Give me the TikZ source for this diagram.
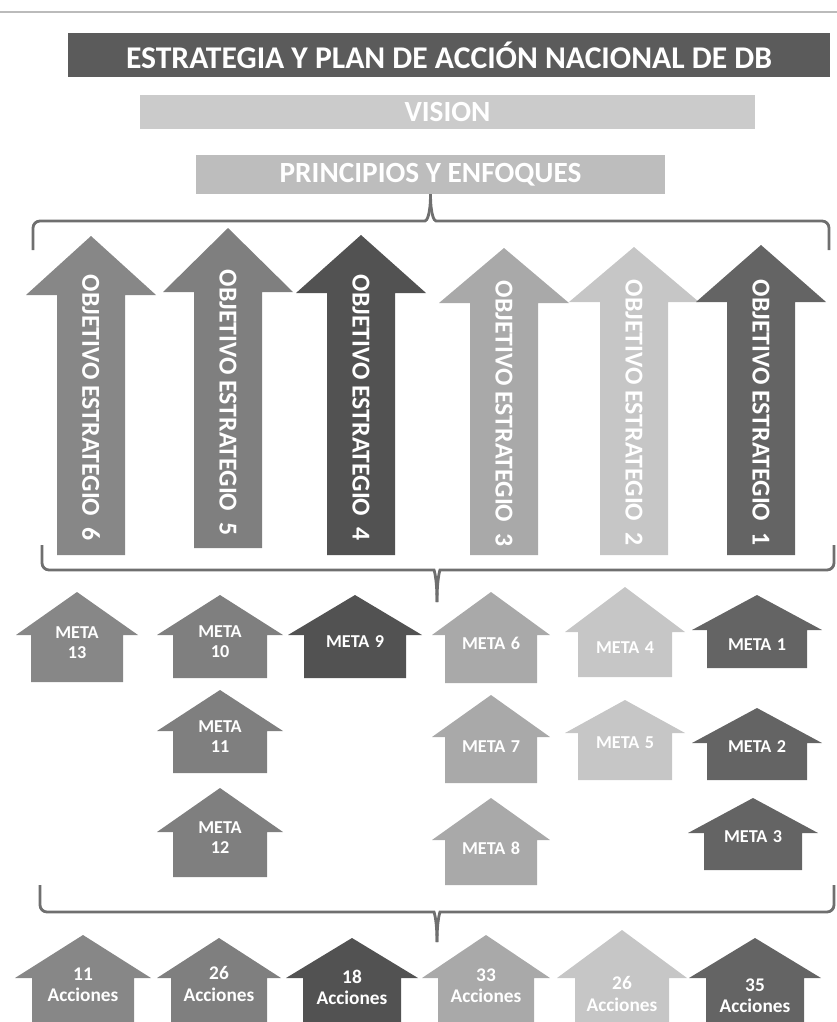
\documentclass[tikz,border=0pt]{standalone}
\usepackage{fontspec}
\setmainfont{Carlito}
\definecolor{titlegray}{HTML}{5B5B5B}
\definecolor{visiongray}{HTML}{CBCBCB}
\definecolor{princgray}{HTML}{BDBDBD}
\definecolor{bracegray}{HTML}{6F6F6F}
\definecolor{rulegray}{HTML}{BBBBBB}
\definecolor{colsix}{HTML}{878787}
\definecolor{colfive}{HTML}{7F7F7F}
\definecolor{colfour}{HTML}{525252}
\definecolor{colthree}{HTML}{A9A9A9}
\definecolor{coltwo}{HTML}{C6C6C6}
\definecolor{colone}{HTML}{646464}
\tikzset{bar/.style={inner sep=0pt, text=white, font=\bfseries\fontsize{25}{27}\selectfont}}
\tikzset{bracket/.style={draw=bracegray, line width=2.4pt, rounded corners=6pt}}
\tikzset{pagerule/.style={draw=rulegray, line width=1pt}}
\tikzset{objtext/.style={text=white, inner sep=0pt, rotate=-90, font=\bfseries\fontsize{22}{24}\selectfont}}
\tikzset{metatext/.style={text=white, inner sep=0pt, align=center, font=\bfseries\fontsize{15.5}{17}\selectfont}}
\tikzset{acctext/.style={text=white, inner sep=0pt, align=center, font=\bfseries\fontsize{16.5}{18}\selectfont}}

\begin{document}
\begin{tikzpicture}[x=0.03cm, y=-0.03cm]
    \useasboundingbox (0, 0) rectangle (837, 1022);
    \draw[pagerule] (0, 12) -- (837, 12);
    \node[bar, fill=titlegray, minimum width=22.86cm, minimum height=1.32cm, font=\bfseries\fontsize{27}{29}\selectfont] (title) at (449, 55) {ESTRATEGIA Y PLAN DE ACCIÓN NACIONAL DE DB};
    \node[bar, fill=visiongray, minimum width=18.45cm, minimum height=1.02cm] (vision) at (447.5, 112) {VISION};
    \node[bar, fill=princgray, minimum width=14.07cm, minimum height=1.17cm] (princ) at (430.5, 174.5) {PRINCIPIOS Y ENFOQUES};
    \draw[bracket] (33, 250) -- (33, 221) -- (418, 221) .. controls (427, 221) and (430.5, 214) .. (princ.south);
    \draw[bracket] (princ.south) .. controls (430.5, 214) and (434, 221) .. (443, 221) -- (829, 221) -- (829, 250);
    \foreach \num/\cx/\tip/\base/\bot/\col/\ty in {6/91/236/295/555/colsix/408, 5/228/228/292/548/colfive/403, 4/361/235/293/555/colfour/408, 3/504/248/303/555/colthree/414, 2/634/247/302/555/coltwo/413, 1/761/245/302/555/colone/413} {
        \fill[\col] ({\cx-34}, \bot) -- ({\cx-34}, \base) -- ({\cx-65}, \base) -- (\cx, \tip) -- ({\cx+65}, \base) -- ({\cx+34}, \base) -- ({\cx+34}, \bot) -- cycle;
        \node[objtext] (obj\num) at (\cx, \ty) {OBJETIVO ESTRATEGIO\hspace{0.45em}\num};
    }
    \coordinate (goaltip) at (437, 602);
    \draw[bracket] (42, 545) -- (42, 570) -- (427, 570) .. controls (434, 570) and (437, 578) .. (goaltip);
    \draw[bracket] (goaltip) .. controls (437, 578) and (440, 570) .. (447, 570) -- (834, 570) -- (834, 545);
    \foreach \name/\cx/\tip/\base/\bot/\hh/\sh/\col/\ty/\txt in {meta13/77/592/635/682/61/46/colsix/643/{META\\13}, meta10/220/595/635/678/63/47/colfive/642/{META\\10}, meta9/355/595/635/678/67/51/colfour/642/{META\hspace{0.3em}9}, meta6/491/592/635/683/59/46/colthree/643/{META\hspace{0.3em}6}, meta4/625/587/632/677/60/47/coltwo/648/{META\hspace{0.3em}4}, meta1/757/595/630/668/65/50/colone/645/{META\hspace{0.3em}1}, meta11/220/690/731/773/63/47/colfive/737/{META\\11}, meta7/491/695/737/783/59/46/colthree/747/{META\hspace{0.3em}7}, meta5/625/700/733/780/60/47/coltwo/743/{META\hspace{0.3em}5}, meta2/757/708/743/780/65/50/colone/747/{META\hspace{0.3em}2}, meta12/220/788/832/877/63/47/colfive/838/{META\\12}, meta8/491/798/840/885/59/46/colthree/848/{META\hspace{0.3em}8}, meta3/753/798/833/870/65/49/colone/837/{META\hspace{0.3em}3}} {
        \fill[\col] ({\cx-\sh}, \bot) -- ({\cx-\sh}, \base) -- ({\cx-\hh}, \base) -- (\cx, \tip) -- ({\cx+\hh}, \base) -- ({\cx+\sh}, \base) -- ({\cx+\sh}, \bot) -- cycle;
        \node[metatext] (\name) at (\cx, \ty) {\txt};
    }
    \coordinate (actiontip) at (437, 942);
    \draw[bracket] (40, 885) -- (40, 912) -- (427, 912) .. controls (434, 912) and (437, 920) .. (actiontip);
    \draw[bracket] (actiontip) .. controls (437, 920) and (440, 912) .. (447, 912) -- (834, 912) -- (834, 885);
    \foreach \name/\cx/\tip/\hh/\sh/\col/\ty/\count in {acc1/83/935/68/51/colsix/985/11, acc2/219/938/62/48/colfive/984/26, acc3/352/938/66/49/colfour/987/18, acc4/486/935/64/48/colthree/986/33, acc5/622/930/65/47/coltwo/994/26, acc6/755/938/66/49/colone/996/35} {
        \fill[\col] ({\cx-\sh}, 1022) -- ({\cx-\sh}, 978) -- ({\cx-\hh}, 978) -- (\cx, \tip) -- ({\cx+\hh}, 978) -- ({\cx+\sh}, 978) -- ({\cx+\sh}, 1022) -- cycle;
        \node[acctext] (\name) at (\cx, \ty) {\count\\Acciones};
    }
\end{tikzpicture}
\end{document}
